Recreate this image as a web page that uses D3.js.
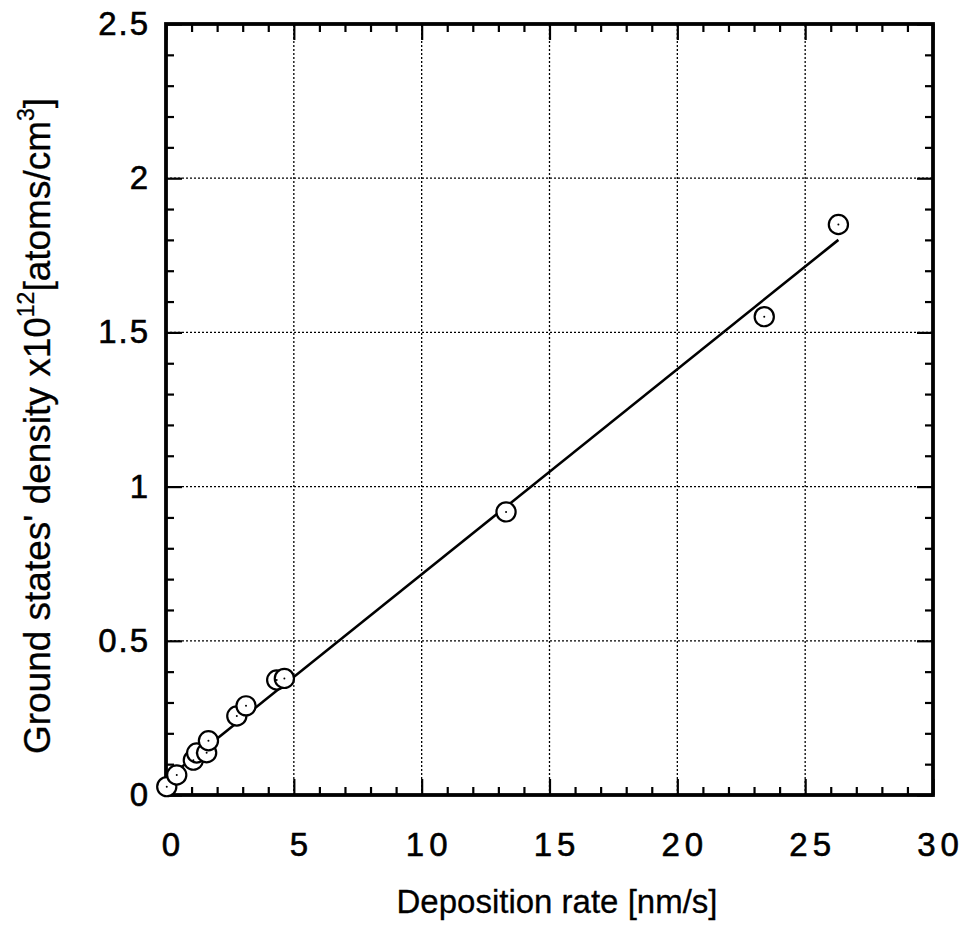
<!DOCTYPE html>
<html>
<head>
<meta charset="utf-8">
<script src="https://cdn.jsdelivr.net/npm/d3@7"></script>
<style>
  html, body { margin: 0; padding: 0; background: #fff; }
  svg { display: block; }
</style>
</head>
<body>
<div id="chart"></div>
<script>
// Measured points: deposition rate [nm/s] vs ground state density (x1e12 atoms/cm3)
const rate = [0.03, 0.42, 1.07, 1.2, 1.59, 1.66, 2.77, 3.13, 4.33, 4.63, 13.3, 23.4, 26.3];
const density = [0.027, 0.065, 0.113, 0.136, 0.137, 0.176, 0.256, 0.289, 0.373, 0.378, 0.918, 1.551, 1.85];

// Linear fit line endpoints
const fitRate = [0, 26.3];
const fitDensity = [0.05, 1.80];

const xTicks = [0, 5, 10, 15, 20, 25, 30];
const yTicks = [0, 0.5, 1, 1.5, 2, 2.5];

const width = 967, height = 932;
const margin = { left: 166, right: 34, top: 24, bottom: 137 };
const font = "'Liberation Sans', Arial, sans-serif";

const x = d3.scaleLinear().domain([0, 30]).range([margin.left, width - margin.right]);
const y = d3.scaleLinear().domain([0, 2.5]).range([height - margin.bottom, margin.top]);

const svg = d3.select("#chart").append("svg")
  .attr("width", width)
  .attr("height", height)
  .attr("font-family", font);

const plotW = x(30) - x(0);
const plotH = y(0) - y(2.5);

// dotted grid at major ticks
const grid = svg.append("g")
  .attr("stroke", "#000")
  .attr("stroke-width", 1.3)
  .attr("stroke-dasharray", "2,2");
grid.selectAll("line.gx")
  .data(xTicks.slice(1, -1))
  .join("line")
  .attr("x1", d => x(d)).attr("x2", d => x(d))
  .attr("y1", y(0)).attr("y2", y(2.5));
grid.selectAll("line.gy")
  .data(yTicks.slice(1, -1))
  .join("line")
  .attr("x1", x(0)).attr("x2", x(30))
  .attr("y1", d => y(d)).attr("y2", d => y(d));

// inward ticks on all four sides
const xMinor = d3.range(0, 31, 1).filter(d => d % 5 !== 0);
const yMinor = d3.range(0, 26, 1).map(d => d / 10).filter(d => Math.round(d * 10) % 5 !== 0);

const bottomAxis = d3.axisBottom(x).tickValues(xTicks).tickSize(-16).tickFormat(d => d).tickPadding(38);
const bottomMinor = d3.axisBottom(x).tickValues(xMinor).tickSize(-8).tickFormat("");
const topAxis = d3.axisTop(x).tickValues(xTicks).tickSize(-16).tickFormat("");
const topMinor = d3.axisTop(x).tickValues(xMinor).tickSize(-8).tickFormat("");
const leftAxis = d3.axisLeft(y).tickValues(yTicks).tickSize(-16).tickFormat(d => d).tickPadding(18);
const leftMinor = d3.axisLeft(y).tickValues(yMinor).tickSize(-8).tickFormat("");
const rightAxis = d3.axisRight(y).tickValues(yTicks).tickSize(-16).tickFormat("");
const rightMinor = d3.axisRight(y).tickValues(yMinor).tickSize(-8).tickFormat("");

function styleAxis(g) {
  g.select(".domain").remove();
  g.selectAll(".tick line").attr("stroke", "#000").attr("stroke-width", 2.2);
  g.selectAll(".tick text")
    .attr("fill", "#000")
    .attr("stroke", "#000")
    .attr("stroke-width", 0.6)
    .attr("font-size", 33)
    .attr("font-family", font);
}

const gx = svg.append("g").attr("transform", `translate(0,${y(0)})`).call(bottomAxis).call(styleAxis);
svg.append("g").attr("transform", `translate(0,${y(0)})`).call(bottomMinor).call(styleAxis);
svg.append("g").attr("transform", `translate(0,${y(2.5)})`).call(topAxis).call(styleAxis);
svg.append("g").attr("transform", `translate(0,${y(2.5)})`).call(topMinor).call(styleAxis);
const gy = svg.append("g").attr("transform", `translate(${x(0)},0)`).call(leftAxis).call(styleAxis);
svg.append("g").attr("transform", `translate(${x(0)},0)`).call(leftMinor).call(styleAxis);
svg.append("g").attr("transform", `translate(${x(30)},0)`).call(rightAxis).call(styleAxis);
svg.append("g").attr("transform", `translate(${x(30)},0)`).call(rightMinor).call(styleAxis);

// the original digits are set wide
gx.selectAll(".tick text").attr("letter-spacing", 5).attr("dx", 7);
gy.selectAll(".tick text").attr("letter-spacing", 2).attr("dx", 2);

// frame
svg.append("rect")
  .attr("x", x(0)).attr("y", y(2.5))
  .attr("width", plotW).attr("height", plotH)
  .attr("fill", "none")
  .attr("stroke", "#000")
  .attr("stroke-width", 3.8);

// fit line
const line = d3.line().x(d => x(d[0])).y(d => y(d[1]));
svg.append("path")
  .datum(d3.zip(fitRate, fitDensity))
  .attr("d", line)
  .attr("fill", "none")
  .attr("stroke", "#000")
  .attr("stroke-width", 2.6);

// points: open circles with centre dot
const pts = d3.zip(rate, density);
const gp = svg.append("g");
gp.selectAll("circle.pt")
  .data(pts)
  .join("circle")
  .attr("class", "pt")
  .attr("cx", d => x(d[0]))
  .attr("cy", d => y(d[1]))
  .attr("r", 9.6)
  .attr("fill", "#fff")
  .attr("stroke", "#000")
  .attr("stroke-width", 2.2);
gp.selectAll("circle.dot")
  .data(pts)
  .join("circle")
  .attr("class", "dot")
  .attr("cx", d => x(d[0]))
  .attr("cy", d => y(d[1]))
  .attr("r", 1)
  .attr("fill", "#000");

// axis titles
svg.append("text")
  .attr("x", 557)
  .attr("y", 913)
  .attr("text-anchor", "middle")
  .attr("font-size", 33)
  .attr("fill", "#000")
  .attr("stroke", "#000")
  .attr("stroke-width", 0.3)
  .text("Deposition rate [nm/s]");

const yt = svg.append("text")
  .attr("transform", "translate(50,426) rotate(-90)")
  .attr("text-anchor", "middle")
  .attr("font-size", 37)
  .attr("fill", "#000")
  .attr("stroke", "#000")
  .attr("stroke-width", 0.3);
yt.append("tspan").text("Ground states' density x10");
yt.append("tspan").attr("font-size", 23).attr("dy", -16).text("12");
yt.append("tspan").attr("dy", 16).text("[atoms/cm");
yt.append("tspan").attr("font-size", 23).attr("dy", -16).text("3");
yt.append("tspan").attr("dy", 16).text("]");
</script>
</body>
</html>
